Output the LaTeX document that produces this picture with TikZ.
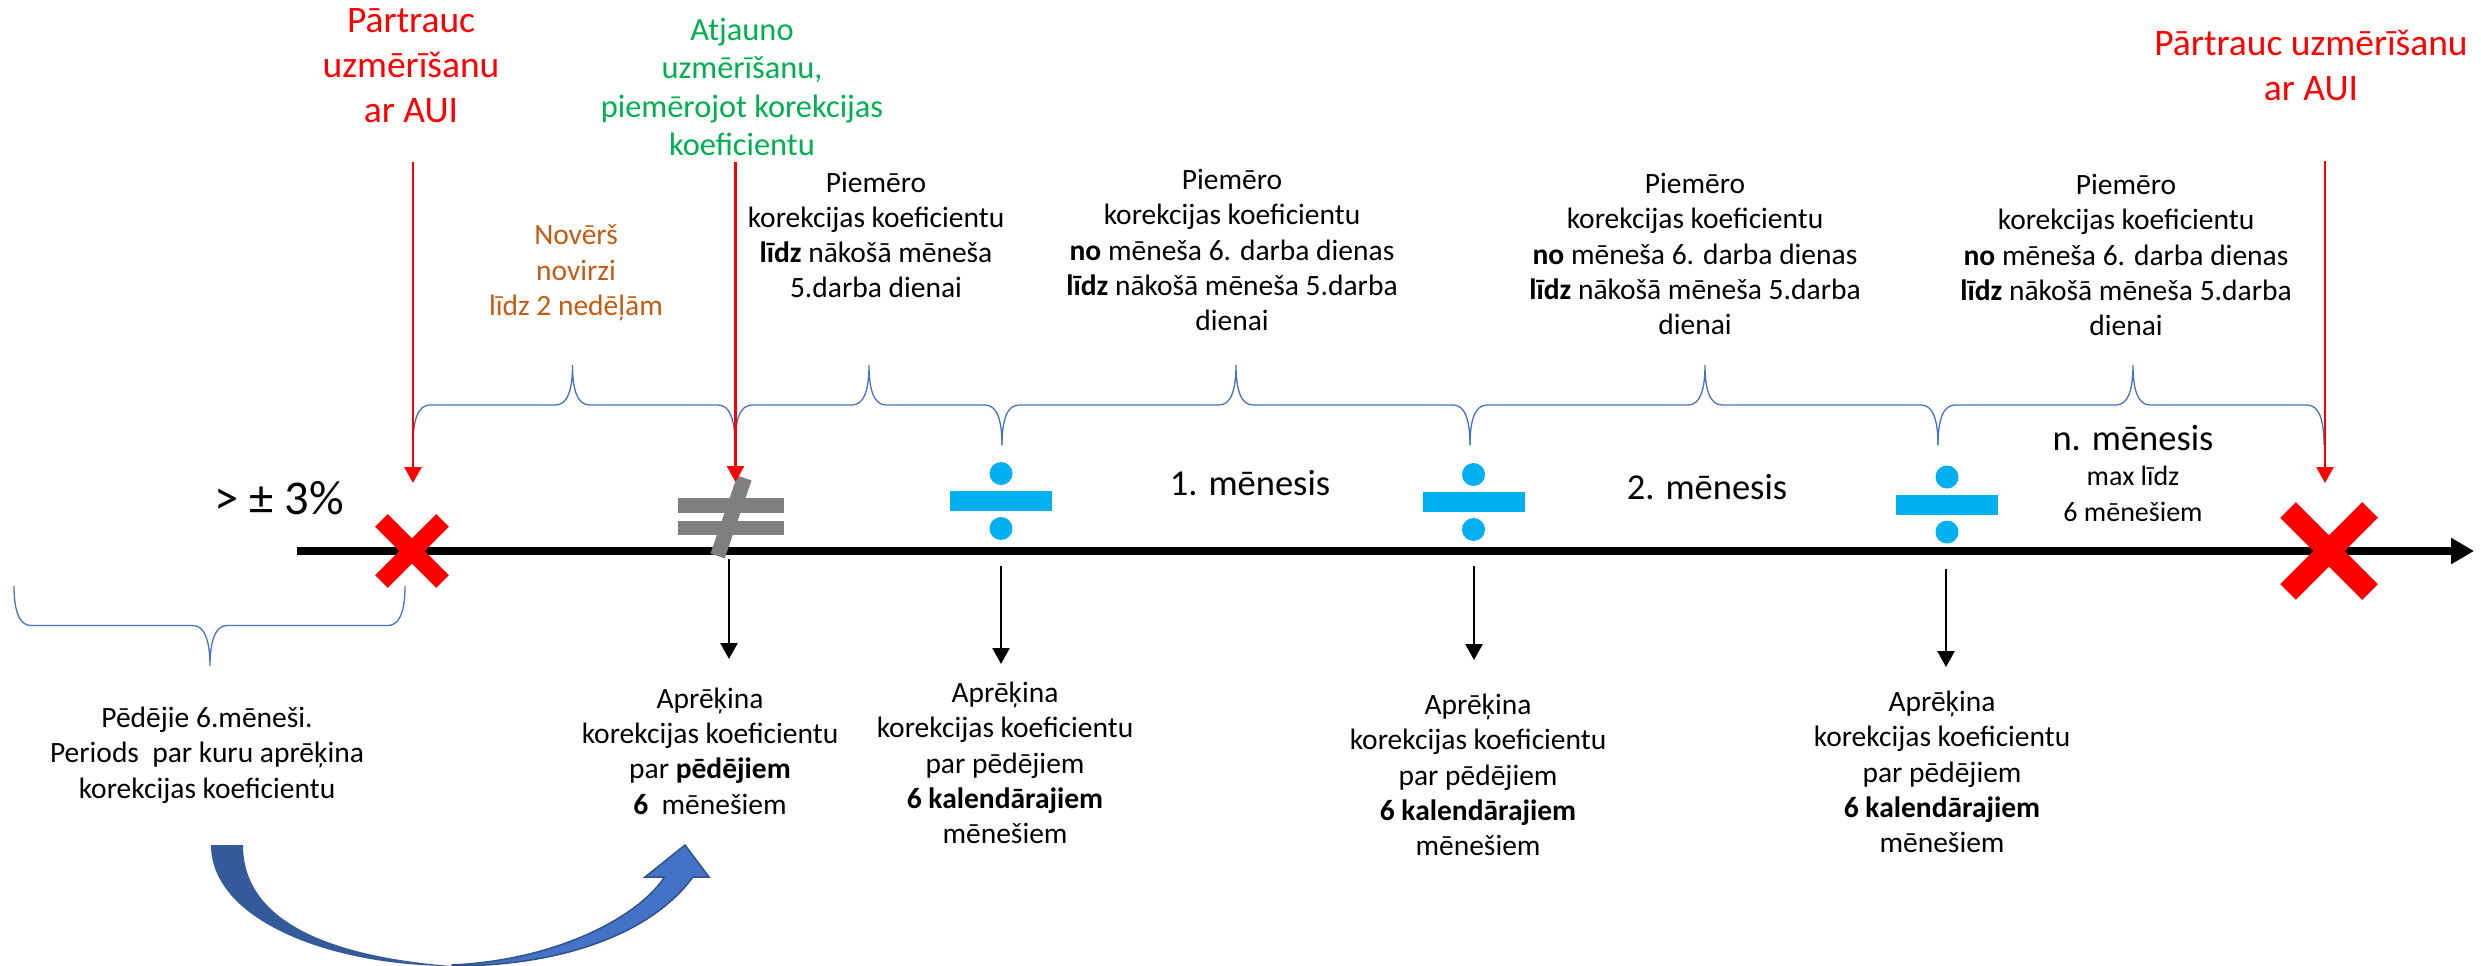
\documentclass[tikz,border=0pt]{standalone}
\usepackage{fontspec}
\setmainfont{Carlito}
\usetikzlibrary{arrows.meta}
\definecolor{redX}{HTML}{FF0000}
\definecolor{greenT}{HTML}{00B050}
\definecolor{orangeT}{HTML}{C55A11}
\definecolor{grayS}{HTML}{7F7F7F}
\definecolor{cyanS}{HTML}{00B0F0}
\definecolor{braceB}{HTML}{4472C4}
\definecolor{darkB}{HTML}{355A9B}
\definecolor{edgeB}{HTML}{2F528F}
\tikzset{
  txt/.style={inner sep=0pt,align=center,font=\fontsize{29.5}{35.3}\selectfont},
  redtxt/.style={inner sep=0pt,align=center,text=redX,font=\fontsize{37.5}{45}\selectfont},
  greentxt/.style={inner sep=0pt,align=center,text=greenT,font=\fontsize{32.4}{38.3}\selectfont},
  bigtxt/.style={inner sep=0pt,align=center,font=\fontsize{36.5}{40}\selectfont},
  bracket/.style={draw=braceB,line width=1.3pt},
  redarrow/.style={draw=redX,line width=2.6pt,-{Triangle[length=16pt,width=17pt]}},
  blackarrow/.style={draw=black,line width=2.6pt,-{Triangle[length=16pt,width=17pt]}},
  barX/.style={draw=redX,line width=18pt},
  barN/.style={fill=grayS},
  barD/.style={fill=cyanS},
}
\begin{document}
\begin{tikzpicture}[x=1pt,y=-1pt]
\useasboundingbox (0,0) rectangle (2481,966);

% time axis
\coordinate (t0) at (297,551);
\coordinate (t1) at (2474,551);
\draw[line width=8pt,-{Triangle[length=23pt,width=25pt]}] (t0) -- (t1);

% crosses
\foreach \c/\d/\w in {412/30.6/18,2329/41/22}
{
    \draw[barX,line width=\w pt] (\c-\d,551-\d) -- (\c+\d,551+\d);
    \draw[barX,line width=\w pt] (\c-\d,551+\d) -- (\c+\d,551-\d);
}

% not equal
\fill[barN] (678,498) rectangle (784,513);
\fill[barN] (678,521) rectangle (784,535);
\draw[grayS,line width=15pt] (744.5,478) -- (717.6,556);

% divide signs
\foreach \c/\y in {1001/501,1473.5/502,1947/504.5}
{
    \fill[barD] (\c-51,\y-10) rectangle (\c+51,\y+10);
    \fill[barD] (\c,\y-27.5) circle (11.5);
    \fill[barD] (\c,\y+27.5) circle (11.5);
}

% braces on top of the axis
\foreach \a/\t/\b in {413/572.5/735,735/869/1002,1002/1236/1470,1470/1705/1938,1938/2133/2324}
    \draw[bracket] (\a,445) .. controls (\a,420) and (\a+5,405) .. (\a+17,405)
        -- (\t-17,405) .. controls (\t-5,405) and (\t,390) .. (\t,365)
        .. controls (\t,390) and (\t+5,405) .. (\t+17,405)
        -- (\b-17,405) .. controls (\b-5,405) and (\b,420) .. (\b,445);

% brace below the axis
\draw[bracket] (14,586) .. controls (14,610) and (19,625.5) .. (31,625.5)
    -- (193,625.5) .. controls (205,625.5) and (210,642) .. (210,666)
    .. controls (210,642) and (215,625.5) .. (227,625.5)
    -- (388,625.5) .. controls (400,625.5) and (405,610) .. (405,586);

% arrow ends
\coordinate (r1) at (413,162);
\coordinate (s1) at (413,483);
\coordinate (r2) at (735.5,162);
\coordinate (s2) at (735.5,482);
\coordinate (r3) at (2325,161);
\coordinate (s3) at (2325,483);
\coordinate (b1) at (729,559);
\coordinate (c1) at (729,659);
\coordinate (b2) at (1001,566);
\coordinate (c2) at (1001,664);
\coordinate (b3) at (1474,566);
\coordinate (c3) at (1474,660);
\coordinate (b4) at (1946,569);
\coordinate (c4) at (1946,667);

\foreach \from/\to in {r1/s1,r2/s2,r3/s3}
    \draw[redarrow] (\from) -- (\to);

\foreach \from/\to in {b1/c1,b2/c2,b3/c3,b4/c4}
    \draw[blackarrow] (\from) -- (\to);

% curved arrow
\draw[fill=braceB,draw=edgeB,line width=1.5pt] (452,966) .. controls (560,966) and (650,935) .. (693,877)
    -- (709,877) -- (685,845) -- (645,877) -- (664.5,877)
    .. controls (640,915) and (560,960) .. (452,965) -- cycle;
\fill[darkB] (211,845) .. controls (211,920) and (330,966) .. (452,966)
    .. controls (350,958) and (243,930) .. (243,845) -- cycle;

% red and green
\node[redtxt](stop1) at (411,66) {Pārtrauc\\uzmērīšanu\\ar AUI};
\node[redtxt](stop2) at (2311,65) {Pārtrauc uzmērīšanu\\ar AUI};
\node[greentxt](resume) at (742,87) {Atjauno\\uzmērīšanu,\\piemērojot korekcijas\\koeficientu};
\node[txt,text=orangeT](fix) at (576,273) {Novērš\\novirzi\\līdz 2 nedēļām};

% apply texts
\node[txt](apply1) at (876,235) {Piemēro\\korekcijas koeficientu\\\textbf{līdz} nākošā mēneša\\5.darba dienai};
\node[txt](apply2) at (1232,250) {Piemēro\\korekcijas koeficientu\\\textbf{no} mēneša 6. darba dienas\\\textbf{līdz} nākošā mēneša 5.darba\\dienai};
\node[txt](apply3) at (1695,254) {Piemēro\\korekcijas koeficientu\\\textbf{no} mēneša 6. darba dienas\\\textbf{līdz} nākošā mēneša 5.darba\\dienai};
\node[txt](apply4) at (2126,255) {Piemēro\\korekcijas koeficientu\\\textbf{no} mēneša 6. darba dienas\\\textbf{līdz} nākošā mēneša 5.darba\\dienai};

% months
\node[bigtxt](m1) at (1250,483) {1. mēnesis};
\node[bigtxt](m2) at (1707,487) {2. mēnesis};
\node[bigtxt](mn) at (2133,438) {n. mēnesis};
\node[txt,font=\fontsize{28}{35.3}\selectfont](mmax) at (2133,494) {max līdz\\6 mēnešiem};
\node[bigtxt,font=\fontsize{48.5}{50}\selectfont](lim) at (279,498) {> ± 3\%};

% bottom texts
\node[txt](last) at (207,755) {Pēdējie 6.mēneši.\\Periods\ \ par kuru aprēķina\\korekcijas koeficientu};
\node[txt](calc1) at (710,751) {Aprēķina\\korekcijas koeficientu\\par \textbf{pēdējiem}\\\textbf{6}\ \ mēnešiem};
\node[txt](calc2) at (1005,763) {Aprēķina\\korekcijas koeficientu\\par pēdējiem\\\textbf{6 kalendārajiem}\\mēnešiem};
\node[txt](calc3) at (1478,775) {Aprēķina\\korekcijas koeficientu\\par pēdējiem\\\textbf{6 kalendārajiem}\\mēnešiem};
\node[txt](calc4) at (1942,772) {Aprēķina\\korekcijas koeficientu\\par pēdējiem\\\textbf{6 kalendārajiem}\\mēnešiem};

\end{tikzpicture}
\end{document}
